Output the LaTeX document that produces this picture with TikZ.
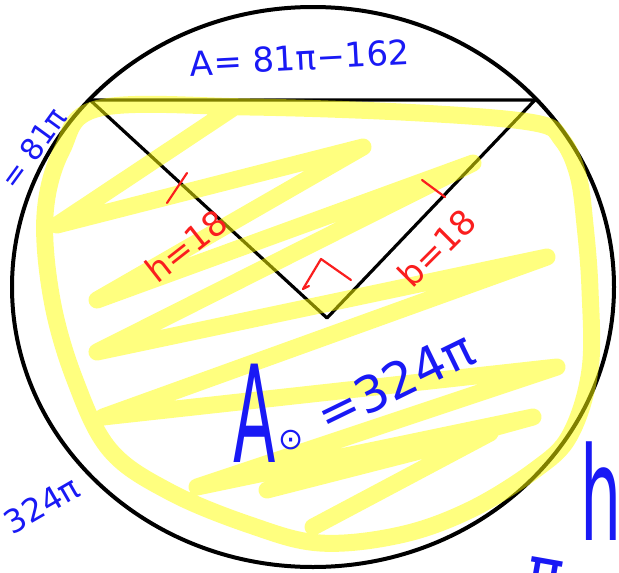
\documentclass[tikz,border=0pt]{standalone}
\usepackage{fontspec}
\setmainfont{DejaVu Sans}
\usetikzlibrary{calc}
\definecolor{penBlue}{RGB}{25,25,245}
\definecolor{penRed}{RGB}{250,30,30}
\definecolor{hiYellow}{RGB}{255,255,0}
\newcommand{\PenSize}[1]{\fontsize{#1}{#1}\selectfont}
\tikzset{
  bluepen/.style={text=penBlue,inner sep=0pt},
  redpen/.style={text=penRed,inner sep=0pt},
  redmark/.style={draw=penRed,line width=2.2,line cap=round,line join=round},
  highlighter/.style={draw=hiYellow,draw opacity=0.5,line width=17,line cap=round,line join=round}
}

\begin{document}
\begin{tikzpicture}[x=1pt,y=-1pt]
\useasboundingbox (0,0) rectangle (619,573);
\fill[white] (0,0) rectangle (619,573);
\draw[line width=4] (313,287) ellipse [x radius=301,y radius=280];
\coordinate (topL) at (90,100);
\coordinate (topR) at (535,100);
\coordinate (apex) at (327,318);
\draw[line width=3.2,line join=round] (topL) -- (topR) -- (apex) -- cycle;
\draw[highlighter] plot[smooth cycle,tension=0.6] coordinates {(100,108) (250,107) (420,113) (535,123) (562,140) (578,175) (585,225) (590,290) (590,370) (570,435) (535,470) (470,510) (400,535) (320,543) (250,525) (170,492) (110,450) (75,380) (52,300) (45,215) (62,150)}
  (233,108) -- (57,225) -- (363,147) -- (97,300) -- (473,163) -- (97,352) -- (547,257) -- (103,417) -- (557,367) -- (197,487) -- (533,417) -- (267,490) -- (490,433) -- (313,527);
\draw[redmark] (167,203) -- (187,173);
\draw[redmark] (422,180) -- (445,197);
\draw[redmark] (309,286) -- (303,289) -- (321,259) -- (351,280);
\node[redpen,font=\PenSize{34},rotate=38] (legH) at (186,246) {h=18};
\node[redpen,font=\PenSize{34},rotate=45] (legB) at (437,248) {b=18};
\node[bluepen,font=\PenSize{34},rotate=3] (areaSeg) at (300,58) {A= 81π−162};
\node[bluepen,font=\PenSize{100},xscale=0.62,yscale=1.35] (areaA) at (255,413) {A};
\node[bluepen,font=\PenSize{30}] (areaSub) at (291,440) {⊙};
\node[bluepen,font=\PenSize{50},rotate=26] (areaVal) at (395,382) {=324π};
\node[bluepen,font=\PenSize{30},rotate=54] (sideL) at (33,148) {= 81π};
\node[bluepen,font=\PenSize{32},rotate=30] (sideB) at (42,505) {324π};
\node[bluepen,font=\PenSize{130},xscale=0.5,anchor=base west] (sideR) at (580,540) {h};
\node[bluepen,font=\PenSize{60},anchor=north,rotate=-10] (sideBot) at (548,559) {π};
\end{tikzpicture}
\end{document}
